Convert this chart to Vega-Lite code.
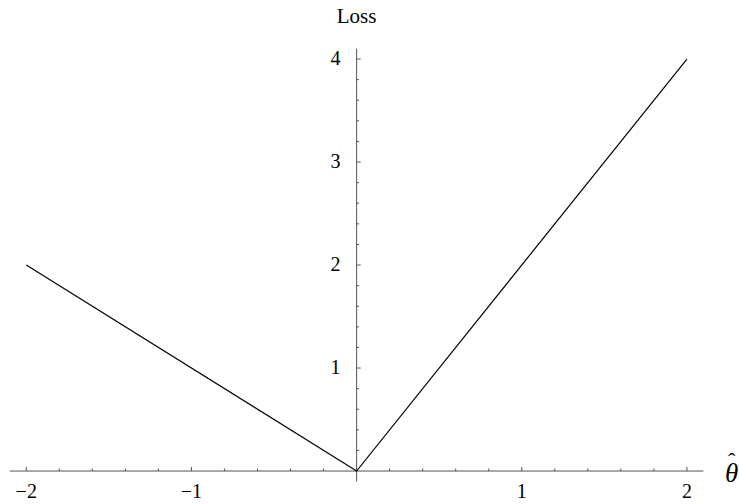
{
  "$schema": "https://vega.github.io/schema/vega-lite/v6.json",
  "width": 739,
  "height": 504,
  "autosize": {"type": "fit", "contains": "padding"},
  "padding": 0,
  "background": "white",
  "config": {"view": {"stroke": null}},
  "datasets": {
    "loss": [
      {"theta": -2, "loss": 2},
      {"theta": 0, "loss": 0},
      {"theta": 2, "loss": 4}
    ],
    "xMajor": [
      {"v": -2, "label": "−2"},
      {"v": -1, "label": "−1"},
      {"v": 1, "label": "1"},
      {"v": 2, "label": "2"}
    ],
    "xMinor": [
      {"v": -1.8}, {"v": -1.6}, {"v": -1.4}, {"v": -1.2},
      {"v": -0.8}, {"v": -0.6}, {"v": -0.4}, {"v": -0.2},
      {"v": 0.2}, {"v": 0.4}, {"v": 0.6}, {"v": 0.8},
      {"v": 1.2}, {"v": 1.4}, {"v": 1.6}, {"v": 1.8}
    ],
    "yMajor": [
      {"v": 1, "label": "1"},
      {"v": 2, "label": "2"},
      {"v": 3, "label": "3"},
      {"v": 4, "label": "4"}
    ],
    "yMinor": [
      {"v": 0.2}, {"v": 0.4}, {"v": 0.6}, {"v": 0.8},
      {"v": 1.2}, {"v": 1.4}, {"v": 1.6}, {"v": 1.8},
      {"v": 2.2}, {"v": 2.4}, {"v": 2.6}, {"v": 2.8},
      {"v": 3.2}, {"v": 3.4}, {"v": 3.6}, {"v": 3.8}
    ]
  },
  "layer": [
    {
      "description": "horizontal axis line",
      "data": {"values": [{}]},
      "mark": {"type": "rule", "color": "#555555", "strokeWidth": 1},
      "encoding": {
        "x": {"datum": -2.1, "type": "quantitative", "scale": {"domain": [-2.159, 2.285], "nice": false, "zero": false}, "axis": null},
        "x2": {"datum": 2.1},
        "y": {"datum": 0, "type": "quantitative", "scale": {"domain": [-0.32, 4.573], "nice": false, "zero": false}, "axis": null}
      }
    },
    {
      "description": "vertical axis line",
      "data": {"values": [{}]},
      "mark": {"type": "rule", "color": "#555555", "strokeWidth": 1},
      "encoding": {
        "x": {"datum": 0, "type": "quantitative"},
        "y": {"datum": -0.1, "type": "quantitative"},
        "y2": {"datum": 4.1}
      }
    },
    {
      "data": {"name": "xMajor"},
      "mark": {"type": "rule", "color": "#555555", "strokeWidth": 1},
      "encoding": {
        "x": {"field": "v", "type": "quantitative"},
        "y": {"datum": 0, "type": "quantitative"},
        "y2": {"datum": 0.04}
      }
    },
    {
      "data": {"name": "xMinor"},
      "mark": {"type": "rule", "color": "#555555", "strokeWidth": 1},
      "encoding": {
        "x": {"field": "v", "type": "quantitative"},
        "y": {"datum": 0, "type": "quantitative"},
        "y2": {"datum": 0.025}
      }
    },
    {
      "data": {"name": "yMajor"},
      "mark": {"type": "rule", "color": "#555555", "strokeWidth": 1},
      "encoding": {
        "y": {"field": "v", "type": "quantitative"},
        "x": {"datum": 0, "type": "quantitative"},
        "x2": {"datum": 0.025}
      }
    },
    {
      "data": {"name": "yMinor"},
      "mark": {"type": "rule", "color": "#555555", "strokeWidth": 1},
      "encoding": {
        "y": {"field": "v", "type": "quantitative"},
        "x": {"datum": 0, "type": "quantitative"},
        "x2": {"datum": 0.015}
      }
    },
    {
      "data": {"name": "xMajor"},
      "mark": {"type": "text", "font": "Liberation Serif", "fontSize": 20, "color": "black", "baseline": "middle", "align": "center", "dy": 21},
      "encoding": {
        "x": {"field": "v", "type": "quantitative"},
        "y": {"datum": 0, "type": "quantitative"},
        "text": {"field": "label"}
      }
    },
    {
      "data": {"name": "yMajor"},
      "mark": {"type": "text", "font": "Liberation Serif", "fontSize": 20, "color": "black", "baseline": "middle", "align": "right", "dx": -16},
      "encoding": {
        "y": {"field": "v", "type": "quantitative"},
        "x": {"datum": 0, "type": "quantitative"},
        "text": {"field": "label"}
      }
    },
    {
      "description": "vertical axis title",
      "data": {"values": [{"t": "Loss"}]},
      "mark": {"type": "text", "font": "Liberation Serif", "fontSize": 21, "color": "black", "baseline": "middle", "align": "center"},
      "encoding": {
        "x": {"datum": 0, "type": "quantitative"},
        "y": {"datum": 4.41, "type": "quantitative"},
        "text": {"field": "t"}
      }
    },
    {
      "description": "horizontal axis title: theta",
      "data": {"values": [{"t": "θ"}]},
      "mark": {"type": "text", "font": "Liberation Serif", "fontStyle": "italic", "fontSize": 27, "color": "black", "baseline": "middle", "align": "left", "dy": 3},
      "encoding": {
        "x": {"datum": 2.231, "type": "quantitative"},
        "y": {"datum": 0, "type": "quantitative"},
        "text": {"field": "t"}
      }
    },
    {
      "description": "horizontal axis title: hat accent",
      "data": {"values": [{"t": "ˆ"}]},
      "mark": {"type": "text", "font": "Liberation Serif", "fontSize": 22, "color": "black", "baseline": "middle", "align": "left", "dx": 3, "dy": -10},
      "encoding": {
        "x": {"datum": 2.231, "type": "quantitative"},
        "y": {"datum": 0, "type": "quantitative"},
        "text": {"field": "t"}
      }
    },
    {
      "data": {"name": "loss"},
      "mark": {"type": "line", "color": "black", "strokeWidth": 1.2},
      "encoding": {
        "x": {"field": "theta", "type": "quantitative"},
        "y": {"field": "loss", "type": "quantitative"}
      }
    }
  ]
}
